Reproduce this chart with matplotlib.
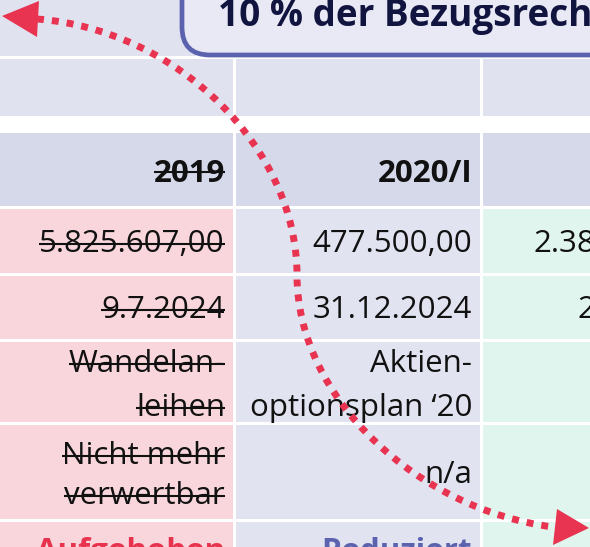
import matplotlib
matplotlib.use("Agg")
import matplotlib.pyplot as plt
from matplotlib.patches import Rectangle, FancyBboxPatch, Polygon, PathPatch
from matplotlib.path import Path

plt.rcParams['font.family'] = ['Open Sans', 'DejaVu Sans']

# table content (third column is cut off at the right edge of the picture)
title = "10 % der Bezugsrechte"
headers = ["2019", "2020/I", ""]
amounts = ["5.825.607,00", "477.500,00", "2.387.500,00"]
deadlines = ["9.7.2024", "31.12.2024", "26.6.2025"]
sources = [["Wandelan-", "leihen"], ["Aktien-", "optionsplan \u201820"], [""]]
usability = [["Nicht mehr", "verwertbar"], ["n/a"], [""]]
status = ["Aufgehoben", "Reduziert", ""]
struck_col = 0  # first column is crossed out

# colours
c_band = "#e0e2ef"
c_head = "#d6d9ea"
c_cols = ["#f9d6dc", "#e1e3f0", "#e0f5ee"]
c_status = ["#e8334f", "#5b62ae", "#2e9e6e"]
c_arrow = "#e83450"

fig = plt.figure(figsize=(5.9, 5.47), dpi=100)
ax = fig.add_axes([0, 0, 1, 1])
ax.set_xlim(0, 590)
ax.set_ylim(547, 0)
ax.axis('off')

# grid geometry in pixels
col_left = [-11, 236, 483]
col_w = 244
pad = 8
rows = [(-10, 56), (59, 116), (133, 206), (209, 273), (276, 339),
        (342, 422), (425, 519), (522, 600)]

for r, (top, bot) in enumerate(rows):
    for c in range(3):
        if r < 2:
            color = c_band
        elif r == 2:
            color = c_head
        else:
            color = c_cols[c]
        ax.add_patch(Rectangle((col_left[c], top), col_w, bot - top,
                               facecolor=color, edgecolor='none', zorder=1))

# title box
ax.add_patch(FancyBboxPatch((182, -60), 600, 115,
                            boxstyle="round,pad=0,rounding_size=28",
                            facecolor="#e8e9f5", edgecolor="#5b62ae",
                            linewidth=3.4, zorder=4))
ax.text(218, 26, title, fontsize=26.6, fontweight='bold', color="#10143f",
        va='baseline', ha='left', zorder=5, clip_on=True)

fs = 22.5
struck = []


def cell_text(c, y, s, weight='normal', color='#111111'):
    if not s:
        return None
    x = col_left[c] + col_w - pad
    t = ax.text(x, y, s, fontsize=fs, fontweight=weight, color=color,
                ha='right', va='baseline', zorder=3, clip_on=True)
    if c == struck_col:
        struck.append((t, y, weight))
    return t


for c in range(3):
    cell_text(c, 182, headers[c], weight='bold')
    cell_text(c, 252, amounts[c])
    cell_text(c, 318, deadlines[c])
    for i, line in enumerate(sources[c]):
        cell_text(c, 372 + 44 * i, line)
    if len(usability[c]) == 2:
        for i, line in enumerate(usability[c]):
            cell_text(c, 464 + 40 * i, line)
    else:
        cell_text(c, 483, usability[c][0])
    cell_text(c, 560, status[c], weight='bold', color=c_status[c])

# strike-through lines for the first column
fig.canvas.draw()
renderer = fig.canvas.get_renderer()
inv = ax.transData.inverted()
for t, y, weight in struck:
    bb = t.get_window_extent(renderer)
    x0, _ = inv.transform((bb.x0, bb.y0))
    x1, _ = inv.transform((bb.x1, bb.y0))
    dy = 10 if weight == 'bold' else 8
    ax.plot([x0, x1], [y - dy, y - dy], color='#111111', lw=1.5,
            solid_capstyle='butt', zorder=3)

# dotted double-headed curved arrow
verts = [(37, 19), (180, 30), (297, 150), (297, 275),
         (297, 400), (420, 510), (553, 527)]
codes = [Path.MOVETO] + [Path.CURVE4] * 6
ax.add_patch(PathPatch(Path(verts, codes), facecolor='none', edgecolor=c_arrow,
                       lw=5, linestyle=(0, (1, 1.15)), capstyle='butt',
                       zorder=6))
ax.add_patch(Polygon([(2, 16), (39, 1), (37, 37)], closed=True,
                     facecolor=c_arrow, edgecolor='none', zorder=6))
ax.add_patch(Polygon([(589, 528), (557, 509), (553, 545)], closed=True,
                     facecolor=c_arrow, edgecolor='none', zorder=6))

fig.savefig("out.png", dpi=100)
